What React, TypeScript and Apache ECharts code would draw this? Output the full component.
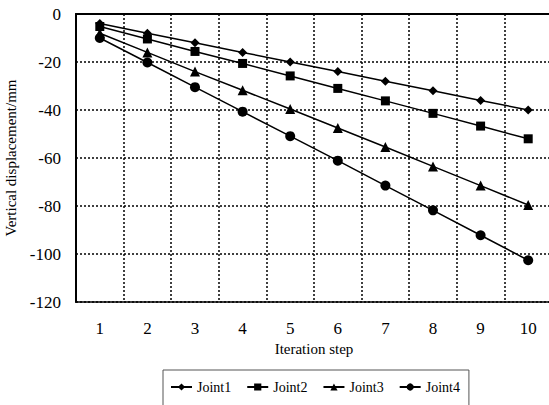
import React, { useEffect, useRef } from "react";
import * as echarts from "echarts";

const steps = ["1", "2", "3", "4", "5", "6", "7", "8", "9", "10"];
const joint1 = [-4, -8, -12, -16, -20, -24, -28, -32, -36, -40];
const joint2 = [-5.2, -10.4, -15.6, -20.6, -25.8, -31, -36.2, -41.4, -46.7, -52];
const joint3 = [-8, -16, -24, -31.8, -39.6, -47.5, -55.4, -63.5, -71.5, -79.6];
const joint4 = [-10, -20.2, -30.5, -40.7, -50.9, -61.1, -71.5, -81.8, -92.2, -102.6];
const seriesNames = ["Joint1", "Joint2", "Joint3", "Joint4"];
const seriesData = [joint1, joint2, joint3, joint4];
const symbols = ["diamond", "rect", "triangle", "circle"];
const symbolSizes = [9, 9, 10, 10];

export default function App() {
  const ref = useRef<HTMLDivElement>(null);
  useEffect(() => {
    if (!ref.current) return;
    const chart = echarts.init(ref.current, undefined, { renderer: "svg" });
    const font = "'Liberation Serif', 'Times New Roman', serif";
    chart.setOption({
      animation: false,
      textStyle: { fontFamily: font, color: "#000" },
      grid: {
        left: 76,
        top: 14,
        right: -3,
        bottom: 103,
        containLabel: false,
        outerBoundsMode: "none",
        show: true,
        borderColor: "#000",
        borderWidth: 1.5,
      },
      legend: {
        data: seriesNames,
        left: 163,
        top: 370,
        padding: [10, 9, 20, 7],
        itemGap: 15,
        itemWidth: 21,
        itemHeight: 9,
        borderColor: "#555",
        borderWidth: 1,
        textStyle: { fontFamily: font, fontSize: 14, color: "#000" },
      },
      xAxis: {
        type: "category",
        data: steps,
        boundaryGap: true,
        name: "Iteration step",
        nameLocation: "middle",
        nameGap: 37,
        nameTextStyle: { fontFamily: font, fontSize: 15, color: "#000", verticalAlign: "top" },
        axisLine: { lineStyle: { color: "#000", width: 2 } },
        axisTick: { show: false },
        axisLabel: { fontFamily: font, fontSize: 17, color: "#000", margin: 18 },
        splitLine: { show: true, lineStyle: { color: "#000", width: 1.5, type: [2, 2] } },
      },
      yAxis: {
        type: "value",
        min: -120,
        max: 0,
        interval: 20,
        name: "Vertical displacement/mm",
        nameLocation: "middle",
        nameGap: 55,
        nameTextStyle: { fontFamily: font, fontSize: 15, color: "#000" },
        axisLine: { show: true, lineStyle: { color: "#000", width: 2 } },
        axisTick: { show: false },
        axisLabel: { fontFamily: font, fontSize: 17, color: "#000", margin: 15 },
        splitLine: { show: true, lineStyle: { color: "#000", width: 1.5, type: [2, 2] } },
      },
      series: seriesNames.map((name, i) => ({
        name,
        type: "line",
        data: seriesData[i],
        symbol: symbols[i],
        symbolSize: symbolSizes[i],
        showSymbol: true,
        lineStyle: { color: "#000", width: 1.5 },
        itemStyle: { color: "#000" },
      })),
    });
    return () => chart.dispose();
  }, []);
  return <div ref={ref} style={{ width: 549, height: 405, position: "absolute", left: 0, top: 0 }} />;
}
